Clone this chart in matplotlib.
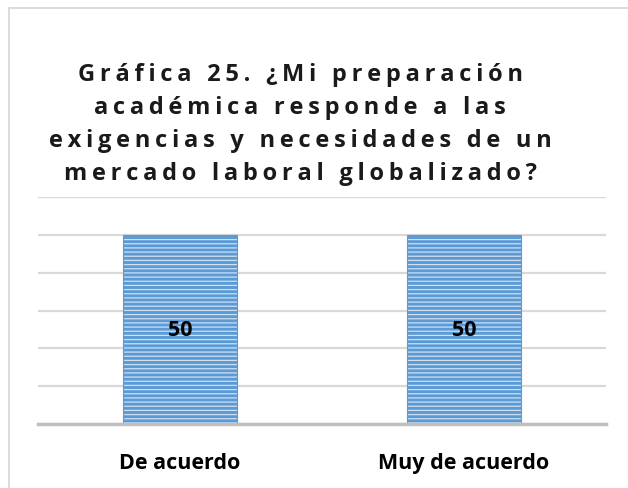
import matplotlib
matplotlib.use("Agg")
import matplotlib.pyplot as plt
from matplotlib.lines import Line2D

categories = ["De acuerdo", "Muy de acuerdo"]
values = [50, 50]
title_lines = [
    "Gráfica 25. ¿Mi preparación",
    "académica responde a las",
    "exigencias y necesidades de un",
    "mercado laboral globalizado?",
]

plt.rcParams['font.family'] = ['Open Sans', 'DejaVu Sans']
plt.rcParams['hatch.linewidth'] = 0.9

W, H = 628, 489
fig = plt.figure(figsize=(W / 100, H / 100), dpi=100)
fig.patch.set_facecolor('white')

ax = fig.add_axes([38 / W, 1 - 425 / H, (606 - 38) / W, (425 - 198.3) / H])
x = list(range(len(categories)))
bars = ax.bar(x, values, width=0.4, color='#5b9bd5', edgecolor='#cfe0f3',
              hatch='----', linewidth=0, zorder=3)
ax.bar(x, values, width=0.4, fill=False, edgecolor='#5b9bd5', linewidth=0.8, zorder=4)
ax.set_xlim(-0.5, len(categories) - 0.5)
ax.set_ylim(0, 60)
ax.set_yticks(range(0, 61, 10))
ax.yaxis.grid(True, color='#d9d9d9', linewidth=1.6, zorder=0)
ax.tick_params(axis='y', left=False, labelleft=False)
ax.tick_params(axis='x', bottom=False, pad=17)
ax.set_xticks(x)
ax.set_xticklabels(categories, fontsize=15.5, fontweight='bold', color='black')
for s in ['top', 'right', 'left']:
    ax.spines[s].set_visible(False)
ax.spines['bottom'].set_color('#bfbfbf')
ax.spines['bottom'].set_linewidth(2.5)
ax.spines['bottom'].set_zorder(5)

for xi, v in zip(x, values):
    ax.text(xi, v / 2, f"{v}", ha='center', va='center', fontsize=15.5,
            fontweight='bold', color='black', zorder=6)

def spaced(s):
    return "\u2009".join(s)

title_y = [75, 108, 141, 174]
for line, yy in zip(title_lines, title_y):
    fig.text(300 / W, 1 - yy / H, spaced(line), ha='center', va='center',
             fontsize=17, fontweight='bold', color='#1a1a1a')

# chart border (top and left visible)
fig.add_artist(Line2D([8.5 / W, 1], [1 - 8.5 / H, 1 - 8.5 / H], color='#d9d9d9', linewidth=1.3))
fig.add_artist(Line2D([8.5 / W, 8.5 / W], [0, 1 - 8.5 / H], color='#d9d9d9', linewidth=1.3))

fig.savefig("out.png", dpi=100)
